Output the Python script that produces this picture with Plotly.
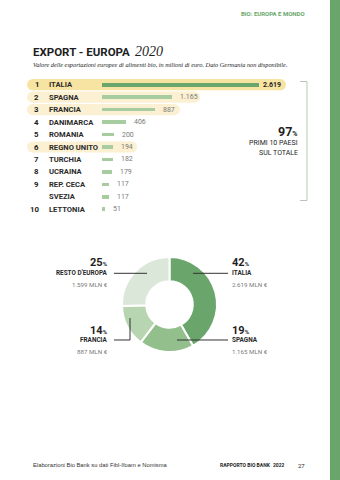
import plotly.graph_objects as go

W, H = 340, 480

# ---- data ----
ranks = ["1", "2", "3", "4", "5", "6", "7", "8", "9", "", "10"]
countries = ["ITALIA", "SPAGNA", "FRANCIA", "DANIMARCA", "ROMANIA", "REGNO UNITO",
             "TURCHIA", "UCRAINA", "REP. CECA", "SVEZIA", "LETTONIA"]
values = [2619, 1165, 887, 406, 200, 194, 182, 179, 117, 117, 51]
value_labels = ["2.619", "1.165", "887", "406", "200", "194", "182", "179", "117", "117", "51"]
highlight = [True, True, True, False, False, True, False, False, False, False, False]

pie_labels = ["ITALIA", "SPAGNA", "FRANCIA", "RESTO D'EUROPA"]
pie_values = [2619, 1165, 887, 1599]
pie_pct = ["42", "19", "14", "25"]
pie_mln = ["2.619 MLN €", "1.165 MLN €", "887 MLN €", "1.599 MLN €"]

# ---- style ----
COND = "Roboto, sans-serif"
SERIF = "Liberation Serif, DejaVu Serif, serif"
SANS = "Liberation Sans, Arial, sans-serif"
GREEN = "#6aa66c"
LIGHT_BAR = "#a7cc9f"
DARK = "#1e1e1e"
GREY = "#7a7a7a"

# pixel mapping for bar chart
BAR_X0 = 101.7
K = (259 - BAR_X0) / values[0]
ROW0, ROWSTEP = 84.7, 12.46
xr = [-BAR_X0 / K, (W - BAR_X0) / K]
yr = [(H - ROW0) / ROWSTEP, -ROW0 / ROWSTEP]


def px(x):
    return x / W


def py(y):
    return 1 - y / H


fig = go.Figure()

idx = list(range(len(countries)))
fig.add_trace(go.Bar(
    x=values, y=idx, orientation="h", width=0.3,
    marker=dict(color=[GREEN if i == 0 else LIGHT_BAR for i in idx], line=dict(width=0)),
    hoverinfo="skip", showlegend=False,
))

# donut
cx, cy, r = 169.5, 304.5, 47.5
fig.add_trace(go.Pie(
    values=pie_values, labels=pie_labels, sort=False, direction="clockwise", rotation=0,
    hole=0.49, textinfo="none", hoverinfo="skip", showlegend=False,
    marker=dict(colors=[GREEN, "#92bf8c", "#b6d5b0", "#dbe7d8"], line=dict(color="white", width=2)),
    domain=dict(x=[px(cx - r), px(cx + r)], y=[py(cy + r), py(cy - r)]),
))

shapes = []
annotations = []

# pills
pill_right = {0: 286, 1: 200, 2: 180, 5: 137}
for i in idx:
    if not highlight[i]:
        continue
    col = "#f8e4a2" if i == 0 else "#fbf0d1"
    hh = 5.6 / ROWSTEP
    x0p, x1p = 27, pill_right[i]
    rpx = 5.6
    shapes.append(dict(type="rect", xref="paper", yref="y", x0=px(x0p + rpx), x1=px(x1p - rpx),
                       y0=i - hh, y1=i + hh, fillcolor=col, line=dict(width=0), layer="below"))
    for c in (x0p + rpx, x1p - rpx):
        shapes.append(dict(type="circle", xref="paper", yref="y", x0=px(c - rpx), x1=px(c + rpx),
                           y0=i - hh, y1=i + hh, fillcolor=col, line=dict(width=0), layer="below"))

# row labels
for i in idx:
    annotations.append(dict(xref="paper", yref="y", x=px(41), y=i, text="<b>%s</b>" % ranks[i],
                            xanchor="right", yanchor="middle", showarrow=False,
                            font=dict(family=COND, size=7.8, color=DARK)))
    annotations.append(dict(xref="paper", yref="y", x=px(47), y=i, text="<b>%s</b>" % countries[i],
                            xanchor="left", yanchor="middle", showarrow=False,
                            font=dict(family=COND, size=7.6, color="#2a2a2a")))
    if i == 0:
        t, col, sh = "<b>%s</b>" % value_labels[i], DARK, 2
    else:
        t, col, sh = value_labels[i], GREY, 6
    annotations.append(dict(xref="x", yref="y", x=values[i], y=i, text=t, xshift=sh,
                            xanchor="left", yanchor="middle", showarrow=False,
                            font=dict(family=COND, size=7, color=col)))

# bracket
bc = "#b9c8b5"
shapes.append(dict(type="path", xref="paper", yref="paper",
                   path="M %f %f L %f %f L %f %f L %f %f" % (px(300), py(81.5), px(307), py(81.5),
                                                             px(307), py(200.5), px(300), py(200.5)),
                   line=dict(color=bc, width=1)))
annotations += [
    dict(xref="paper", yref="paper", x=px(300), y=py(131), xanchor="right", yanchor="middle",
         text="<b>97<span style='font-size:7px'>%</span></b>", showarrow=False,
         font=dict(family=COND, size=12.5, color=DARK)),
    dict(xref="paper", yref="paper", x=px(300), y=py(142.5), xanchor="right", yanchor="middle",
         text="PRIMI 10 PAESI", showarrow=False, font=dict(family=COND, size=7, color=DARK)),
    dict(xref="paper", yref="paper", x=px(300), y=py(153), xanchor="right", yanchor="middle",
         text="SUL TOTALE", showarrow=False, font=dict(family=COND, size=7, color=DARK)),
]

# header, title, subtitle, footer
annotations += [
    dict(xref="paper", yref="paper", x=px(307), y=py(13.5), xanchor="right", yanchor="middle",
         text="<b>BIO: EUROPA E MONDO</b>", showarrow=False,
         font=dict(family=COND, size=6, color=GREEN)),
    dict(xref="paper", yref="paper", x=px(31), y=py(51.5), xanchor="left", yanchor="middle",
         text="<b>EXPORT - EUROPA</b>", showarrow=False,
         font=dict(family=COND, size=11.5, color=DARK)),
    dict(xref="paper", yref="paper", x=px(133), y=py(51.5), xanchor="left", yanchor="middle",
         text="<i>2020</i>", showarrow=False,
         font=dict(family=SERIF, size=14, color=DARK)),
    dict(xref="paper", yref="paper", x=px(31), y=py(64.5), xanchor="left", yanchor="middle",
         text="<i>Valore delle esportazioni europee di alimenti bio, in milioni di euro. Dato Germania non disponibile.</i>",
         showarrow=False, font=dict(family=SERIF, size=6.3, color=DARK)),
    dict(xref="paper", yref="paper", x=px(31), y=py(465), xanchor="left", yanchor="middle",
         text="Elaborazioni Bio Bank su dati Fibl-Ifoam e Nomisma", showarrow=False,
         font=dict(family=SANS, size=5.8, color="#333333")),
    dict(xref="paper", yref="paper", x=px(218), y=py(465), xanchor="left", yanchor="middle",
         text="<b>RAPPORTO BIO BANK</b>", showarrow=False,
         font=dict(family=COND, size=5, color=DARK)),
    dict(xref="paper", yref="paper", x=px(271), y=py(465), xanchor="left", yanchor="middle",
         text="<b>2022</b>", showarrow=False,
         font=dict(family=COND, size=5, color=DARK)),
    dict(xref="paper", yref="paper", x=px(307), y=py(465), xanchor="right", yanchor="middle",
         text="27", showarrow=False,
         font=dict(family=COND, size=6, color=DARK)),
]

# green band on right
shapes.append(dict(type="rect", xref="paper", yref="paper", x0=px(330), x1=1, y0=0, y1=1,
                   fillcolor=GREEN, line=dict(width=0)))

# donut callouts: (label index, side, text x, y of pct/label/mln, leader path)
LC = "#333333"
callouts = [
    (3, "right", 110, (262.5, 273.3, 284.5), [(114, 273.3), (147, 273.3)]),
    (0, "left", 230, (262.5, 273.3, 284.5), [(193, 273.3), (228, 273.3)]),
    (2, "right", 110, (330, 340, 351.7), [(114, 340), (130, 340), (130, 318)]),
    (1, "left", 230, (330, 340, 351.7), [(177, 340), (228, 340)]),
]
for li, anchor, tx, (y1, y2, y3), pts in callouts:
    annotations += [
        dict(xref="paper", yref="paper", x=px(tx), y=py(y1), xanchor=anchor, yanchor="middle",
             text="<b>%s<span style='font-size:6px'>%%</span></b>" % pie_pct[li], showarrow=False,
             font=dict(family=COND, size=11, color=DARK)),
        dict(xref="paper", yref="paper", x=px(tx), y=py(y2), xanchor=anchor, yanchor="middle",
             text="<b>%s</b>" % pie_labels[li], showarrow=False,
             font=dict(family=COND, size=6.4, color="#2a2a2a")),
        dict(xref="paper", yref="paper", x=px(tx), y=py(y3), xanchor=anchor, yanchor="middle",
             text=pie_mln[li], showarrow=False, font=dict(family=COND, size=6.2, color=GREY)),
    ]
    path = "M " + " L ".join("%f %f" % (px(a), py(b)) for a, b in pts)
    shapes.append(dict(type="path", xref="paper", yref="paper", path=path,
                       line=dict(color=LC, width=1)))

fig.update_layout(
    width=W, height=H, margin=dict(l=0, r=0, t=0, b=0),
    paper_bgcolor="white", plot_bgcolor="rgba(0,0,0,0)",
    xaxis=dict(range=xr, domain=[0, 1], visible=False, fixedrange=True),
    yaxis=dict(range=yr, domain=[0, 1], visible=False, fixedrange=True),
    shapes=shapes, annotations=annotations, bargap=0,
)

fig.write_html("out.html", config={"displayModeBar": False})
